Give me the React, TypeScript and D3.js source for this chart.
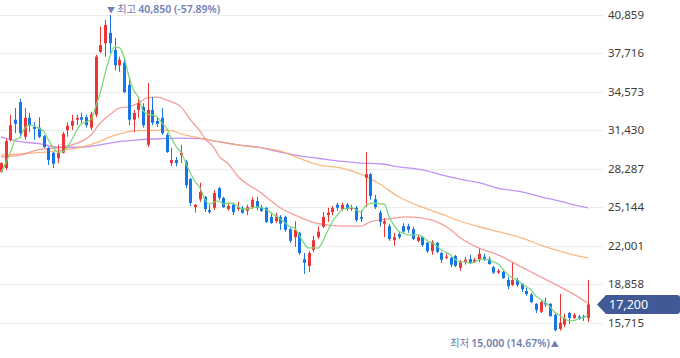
import React from "react";
import * as d3 from "d3";

const W = 680;
const H = 358;

const opens = [
  28050, 28350, 30650, 32300, 33750, 30900, 32450, 31700, 31650, 30950,
  30000, 29600, 29150, 29600, 31450, 31800, 32300, 32500, 32500, 31650,
  32700, 37850, 38550, 39400, 38000, 36750, 36950, 35150, 32300, 33100,
  33350, 30250, 33100, 32200, 32450, 31050, 28750, 29000, 29400, 28850,
  27450, 25150, 25800, 26000, 24900, 25100, 26700, 25900, 25000, 25350,
  25000, 25100, 24850, 25150, 25650, 25150, 25100, 24350, 24000, 24350,
  24350, 23350, 22700, 23050, 20900, 20350, 21650, 22700, 23550, 24500,
  24750, 25350, 25000, 25350, 25000, 25100, 24350, 27550, 27850, 25800,
  24700, 23800, 23600, 22450, 22950, 23600, 23600, 23350, 22400, 22700,
  22250, 21550, 22250, 21400, 21000, 21000, 21150, 20200, 20650, 20900,
  20650, 20850, 21100, 20900, 20250, 19800, 19850, 19200, 18800, 19200,
  18900, 18300, 18000, 17250, 16600, 17300, 17250, 16350, 15200, 15550,
  16500, 16100, 16200, 16200, 16100,
];

const closes = [
  28750, 30550, 31850, 31950, 31200, 32450, 31850, 31550, 30900, 30050,
  29000, 28700, 29600, 31150, 31800, 32200, 32450, 32300, 31850, 32750,
  37450, 38400, 40050, 38550, 36750, 37200, 34550, 32300, 32850, 33650,
  31850, 33100, 32050, 31950, 31200, 29650, 29000, 28750, 29600, 26950,
  25500, 25350, 26400, 25000, 24750, 26300, 25900, 25150, 25250, 24750,
  25150, 24700, 25150, 25750, 25100, 24850, 23950, 23850, 24450, 23800,
  23300, 22400, 23300, 21400, 20600, 21400, 22450, 23150, 24350, 24700,
  25100, 25100, 25350, 25000, 25100, 24100, 24200, 27850, 26050, 25150,
  23950, 24000, 22550, 22700, 22700, 23150, 23300, 22550, 22700, 22050,
  21550, 22300, 21500, 20850, 21100, 20450, 20350, 20650, 20850, 20600,
  20850, 21350, 20900, 20500, 19800, 19950, 19350, 18700, 19200, 18800,
  18450, 18050, 17400, 16750, 17400, 17200, 16250, 15100, 15700, 16100,
  16100, 16350, 16000, 16100, 17200,
];

const highs = [
  28850, 30750, 32700, 33250, 34000, 33250, 32850, 32100, 32500, 31050,
  30050, 29650, 30250, 31300, 32100, 32700, 32700, 32850, 32700, 32950,
  37600, 39900, 40450, 40850, 39000, 37450, 37350, 35800, 33100, 34150,
  33650, 35300, 34150, 32450, 33250, 31200, 30000, 29250, 30250, 29000,
  27550, 25400, 27150, 26050, 25350, 26550, 26800, 26000, 25500, 25500,
  25600, 25250, 25350, 26000, 26000, 25350, 25150, 24700, 24700, 24500,
  24450, 23450, 24000, 23150, 21400, 21550, 22800, 23600, 24750, 25100,
  25250, 25500, 25500, 25500, 25350, 25250, 24900, 29650, 27950, 26150,
  24900, 24250, 23800, 23050, 23150, 23850, 23800, 23550, 22900, 22800,
  22300, 22450, 22300, 21500, 21350, 21100, 21250, 20850, 21100, 21250,
  21000, 21750, 21350, 21100, 20350, 20100, 19950, 19450, 20600, 19350,
  18950, 18550, 18150, 17300, 17500, 17750, 17300, 16500, 18050, 16450,
  16600, 16500, 16350, 16350, 19200,
];

const lows = [
  27950, 28200, 30500, 31200, 30800, 30650, 31300, 30650, 30800, 30000,
  28600, 28350, 28750, 29550, 30900, 31450, 31850, 32050, 31650, 31450,
  32500, 37750, 37450, 37750, 36350, 36200, 34500, 31850, 31300, 32450,
  31650, 30050, 31850, 31700, 31050, 29600, 28500, 28500, 28750, 26700,
  25250, 24700, 25600, 24750, 24600, 24900, 25750, 25100, 24850, 24500,
  24850, 24600, 24500, 25000, 24900, 24750, 23850, 23800, 23850, 23300,
  23150, 22250, 21900, 21250, 19700, 19850, 21500, 22550, 23450, 23950,
  24500, 24850, 24850, 24850, 24850, 23950, 23950, 25150, 25750, 25000,
  23550, 22700, 22400, 22000, 22550, 23050, 23050, 22450, 22300, 21900,
  21400, 21250, 21400, 20600, 20900, 20250, 20250, 19950, 20450, 20500,
  20600, 20650, 20750, 20450, 19700, 19700, 19300, 18450, 18700, 18650,
  18200, 17900, 17300, 16500, 16500, 17000, 16200, 15000, 15050, 15350,
  15600, 16000, 15950, 15850, 15750,
];

// MA5 values read at the first four candles (earlier closes are off-screen)
const ma5Lead = [28000, 28750, 29650, 30650];

// [candle index, price]
const ma20Points: [number, number][] = [
  [0, 29250], [4, 29400], [8, 29850], [12, 30000], [15, 30250], [19, 31050],
  [21, 32050], [23, 32700], [25, 33250], [27, 33350], [29, 33650], [31, 34100],
  [33, 34150], [35, 33900], [38, 33350], [40, 32300], [42, 31400], [43, 30800],
  [45, 30000], [46, 29350], [48, 28700], [50, 27700], [55, 26300], [59, 25100],
  [63, 24350], [67, 23800], [72, 23600], [76, 23600], [78, 23950], [82, 24200],
  [86, 24350], [91, 24100], [95, 23300], [97, 22650], [101, 21800], [105, 21250],
  [110, 20250], [114, 19450], [118, 18650], [122, 17800], [124, 17300],
];

const ma60Points: [number, number][] = [
  [0, 29400], [4, 29500], [12, 29750], [17, 30050], [21, 30550], [23, 30900],
  [25, 31150], [29, 31400], [34, 31450], [36, 31400], [38, 31150], [42, 30800],
  [50, 30250], [56, 29950], [59, 29750], [63, 29150], [67, 28600], [72, 28350],
  [76, 27850], [80, 27050], [84, 26000], [89, 25150], [93, 24600], [97, 24000],
  [101, 23550], [105, 23150], [110, 22650], [114, 22050], [118, 21550],
  [122, 21150], [124, 21000],
];

const ma120Points: [number, number][] = [
  [0, 30900], [4, 30500], [8, 30350], [12, 30050], [17, 30050], [21, 30250],
  [25, 30500], [29, 30650], [34, 30750], [38, 30800], [42, 30750], [46, 30500],
  [50, 30250], [55, 30000], [59, 29650], [63, 29350], [67, 29150], [72, 28900],
  [76, 28750], [80, 28700], [84, 28450], [89, 28200], [93, 27800], [97, 27450],
  [101, 27150], [105, 26700], [110, 26400], [114, 26000], [118, 25650],
  [122, 25250], [124, 25100],
];

const yTicks = [40859, 37716, 34573, 31430, 28287, 25144, 22001, 18858, 15715];

const lastPrice = 17200;
const highPrice = 40850;
const highPct = "-57.89%";
const lowPrice = 15000;
const lowPct = "14.67%";

const UP = "#ec3535";
const DOWN = "#1776e6";
const LABEL = "#6f80b2";

export default function App() {
  const N = closes.length;
  const x = d3.scaleLinear().domain([0, N - 1]).range([1, 588]);
  const y = d3.scaleLinear().domain([15715, 40859]).range([322.6, 15]);
  const fmt = d3.format(",");

  const ma5: [number, number][] = closes.map((_, i) => {
    if (i < 4) return [i, ma5Lead[i]];
    return [i, d3.mean(closes.slice(i - 4, i + 1)) as number];
  });

  const smooth = d3
    .line<[number, number]>()
    .x((d) => x(d[0]))
    .y((d) => y(d[1]))
    .curve(d3.curveMonotoneX);

  const hiIdx = highs.indexOf(d3.max(highs) as number);
  const loIdx = lows.indexOf(d3.min(lows) as number);
  const ly = y(lastPrice);

  const font = "'Noto Sans', 'Noto Sans CJK KR', sans-serif";

  return (
    <svg
      width={W}
      height={H}
      style={{ position: "absolute", left: 0, top: 0, background: "#fff" }}
    >
      {yTicks.map((t) => (
        <g key={t}>
          <line x1={0} x2={603} y1={Math.round(y(t)) + 0.5} y2={Math.round(y(t)) + 0.5} stroke="#ececec" strokeWidth={1} />
          <text x={608} y={y(t) + 4} fontSize={11.5} fill="#3c3c3c" fontFamily={font}>
            {fmt(t)}
          </text>
        </g>
      ))}

      <path d={smooth(ma120Points) || ""} fill="none" stroke="#b57ff2" strokeWidth={1.3} strokeOpacity={0.85} />
      <path d={smooth(ma60Points) || ""} fill="none" stroke="#fdaa6a" strokeWidth={1.3} strokeOpacity={0.85} />
      <path d={smooth(ma20Points) || ""} fill="none" stroke="#f58c8c" strokeWidth={1.3} strokeOpacity={0.85} />

      {closes.map((c, i) => {
        const o = opens[i];
        const up = c >= o;
        const col = up ? UP : DOWN;
        const cx = Math.round(x(i));
        const top = y(Math.max(o, c));
        const bot = y(Math.min(o, c));
        return (
          <g key={i}>
            <rect x={cx} y={y(highs[i])} width={1} height={Math.max(1, y(lows[i]) - y(highs[i]))} fill={col} />
            <rect x={cx - 1} y={top} width={3} height={Math.max(1.2, bot - top)} fill={col} />
          </g>
        );
      })}

      <path d={smooth(ma5) || ""} fill="none" stroke="#76d776" strokeWidth={1.3} strokeOpacity={0.95} />

      <text x={x(hiIdx) - 3} y={13} fontSize={10.5} fill={LABEL} fontFamily={font}>
        <tspan fontSize={8}>▼</tspan>
        <tspan dx={2}>최고</tspan>
        <tspan dx={2} fontWeight={600}>{fmt(highPrice)} ({highPct})</tspan>
      </text>

      <text x={x(loIdx) + 4} y={347} fontSize={10.5} fill={LABEL} fontFamily={font} textAnchor="end">
        <tspan>최저</tspan>
        <tspan dx={2} fontWeight={600}>{fmt(lowPrice)} ({lowPct})</tspan>
        <tspan dx={1} fontSize={8}>▲</tspan>
      </text>

      <path
        d={`M597,${ly} L606,${ly - 9.5} H677 Q680,${ly - 9.5} 680,${ly - 6.5} V${ly + 6.5} Q680,${ly + 9.5} 677,${ly + 9.5} H606 Z`}
        fill="#415a97"
      />
      <text x={609} y={ly + 4.5} fontSize={12.5} fill="#fff" fontFamily={font}>
        {fmt(lastPrice)}
      </text>
    </svg>
  );
}
